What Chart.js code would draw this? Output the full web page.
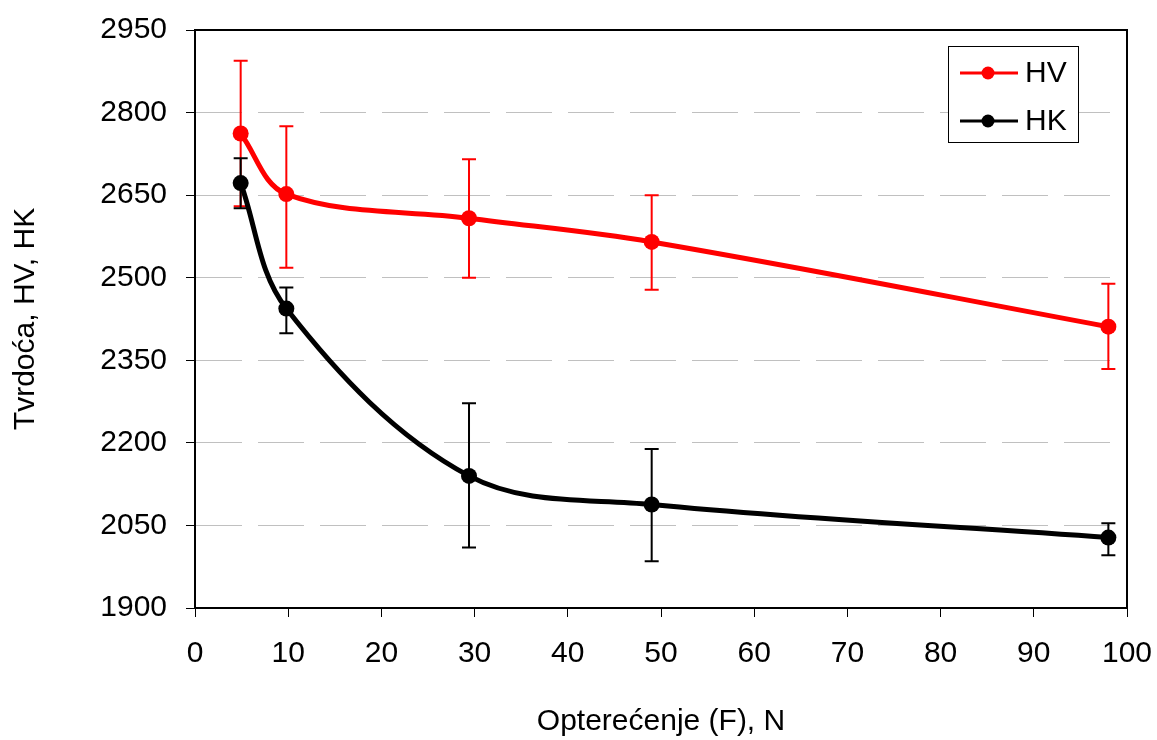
<!DOCTYPE html>
<html>
<head>
<meta charset="utf-8">
<script src="https://cdn.jsdelivr.net/npm/chart.js@4"></script>
<style>
    html, body { margin: 0; padding: 0; background: #fff; }
    #wrap { width: 1157px; height: 740px; }
</style>
</head>
<body>
<div id="wrap"><canvas id="hardnessChart" width="1157" height="740"></canvas></div>
<script>
// load in N (0.5, 1, 3, 5, 10 kgf)
const loads = [4.9, 9.8, 29.4, 49, 98];

const hv = [2762, 2652, 2608, 2565, 2411];
const hvErrHi = [2894, 2775, 2715, 2650, 2489];
const hvErrLo = [2630, 2518, 2500, 2478, 2334];

const hk = [2672, 2444, 2140, 2088, 2028];
const hkErrHi = [2717, 2482, 2272, 2189, 2054];
const hkErrLo = [2626, 2399, 2010, 1985, 1996];

const seriesNames = ['HV', 'HK'];
const seriesColors = ['#ff0000', '#000000'];

const xMin = 0, xMax = 100, xStep = 10;
const yMin = 1900, yMax = 2950, yStep = 150;

const FONT = "'Liberation Sans', Arial, sans-serif";

const errBars = [
    { lo: hvErrLo, hi: hvErrHi, color: seriesColors[0] },
    { lo: hkErrLo, hi: hkErrHi, color: seriesColors[1] }
];

const errorBarPlugin = {
    id: 'errorBars',
    beforeDatasetsDraw(chart) {
        const { ctx, scales: { x, y } } = chart;
        ctx.save();
        ctx.lineWidth = 2;
        errBars.forEach(bar => {
            ctx.strokeStyle = bar.color;
            loads.forEach((load, i) => {
                const px = x.getPixelForValue(load);
                const top = y.getPixelForValue(bar.hi[i]);
                const bottom = y.getPixelForValue(bar.lo[i]);
                ctx.beginPath();
                ctx.moveTo(px, top);
                ctx.lineTo(px, bottom);
                ctx.moveTo(px - 7, top);
                ctx.lineTo(px + 7, top);
                ctx.moveTo(px - 7, bottom);
                ctx.lineTo(px + 7, bottom);
                ctx.stroke();
            });
        });
        ctx.restore();
    }
};

// top and right edge of the plot box + legend box
const framePlugin = {
    id: 'frame',
    afterDraw(chart) {
        const { ctx, chartArea: a } = chart;
        ctx.save();
        ctx.strokeStyle = '#000';
        ctx.lineWidth = 2;
        ctx.beginPath();
        ctx.moveTo(a.left, a.top);
        ctx.lineTo(a.right, a.top);
        ctx.lineTo(a.right, a.bottom);
        ctx.stroke();

        // legend
        const lx = a.right - 179, ly = a.top + 16, lw = 130, lh = 96;
        ctx.fillStyle = '#fff';
        ctx.fillRect(lx, ly, lw, lh);
        ctx.lineWidth = 1;
        ctx.strokeRect(lx + 0.5, ly + 0.5, lw, lh);
        ctx.font = '30px ' + FONT;
        ctx.textBaseline = 'middle';
        ctx.textAlign = 'left';
        seriesNames.forEach((name, i) => {
            const cy = ly + 27 + i * 48;
            ctx.strokeStyle = seriesColors[i];
            ctx.fillStyle = seriesColors[i];
            ctx.lineWidth = 3;
            ctx.beginPath();
            ctx.moveTo(lx + 12, cy);
            ctx.lineTo(lx + 70, cy);
            ctx.stroke();
            ctx.beginPath();
            ctx.arc(lx + 40, cy, 6.5, 0, Math.PI * 2);
            ctx.fill();
            ctx.fillStyle = '#000';
            ctx.fillText(name, lx + 77, cy + 1);
        });
        ctx.restore();
    }
};

const ctx = document.getElementById('hardnessChart').getContext('2d');

new Chart(ctx, {
    type: 'line',
    data: {
        datasets: [
            {
                label: seriesNames[0],
                data: loads.map((l, i) => ({ x: l, y: hv[i] })),
                borderColor: seriesColors[0],
                backgroundColor: seriesColors[0],
                borderWidth: 5,
                pointRadius: 8,
                pointBorderWidth: 0,
                tension: 0.35,
                order: 1
            },
            {
                label: seriesNames[1],
                data: loads.map((l, i) => ({ x: l, y: hk[i] })),
                borderColor: seriesColors[1],
                backgroundColor: seriesColors[1],
                borderWidth: 5,
                pointRadius: 8,
                pointBorderWidth: 0,
                tension: 0.35,
                order: 0
            }
        ]
    },
    options: {
        responsive: false,
        animation: false,
        layout: { padding: { top: 30, right: 30, left: 0, bottom: 0 } },
        scales: {
            x: {
                type: 'linear',
                min: xMin,
                max: xMax,
                afterFit: scale => {
                    scale.height = 132;
                    scale.paddingLeft = 0;
                    scale.paddingRight = 0;
                },
                ticks: {
                    stepSize: xStep,
                    color: '#000',
                    font: { family: FONT, size: 30 },
                    padding: 19,
                    maxRotation: 0
                },
                grid: {
                    drawOnChartArea: false,
                    tickLength: 9,
                    tickColor: '#000',
                    tickWidth: 1
                },
                border: { color: '#000', width: 2 },
                title: {
                    display: true,
                    text: 'Opterećenje (F), N',
                    color: '#000',
                    font: { family: FONT, size: 30 },
                    padding: { top: 0, bottom: 0 }
                }
            },
            y: {
                min: yMin,
                max: yMax,
                afterFit: scale => {
                    scale.width = 195;
                    scale.paddingTop = 0;
                    scale.paddingBottom = 0;
                },
                ticks: {
                    stepSize: yStep,
                    color: '#000',
                    font: { family: FONT, size: 30 },
                    padding: 19,
                    callback: v => String(v)
                },
                grid: {
                    color: c => (c.tick && (c.tick.value === yMin || c.tick.value === yMax)) ? 'rgba(0,0,0,0)' : '#c0c0c0',
                    lineWidth: 1,
                    tickLength: 9,
                    tickColor: '#000',
                    tickWidth: 1
                },
                border: { color: '#000', width: 2, dash: [46, 16] },
                title: {
                    display: true,
                    text: 'Tvrdoća, HV, HK',
                    color: '#000',
                    font: { family: FONT, size: 30 },
                    padding: { top: 8, bottom: 0 }
                }
            }
        },
        plugins: {
            legend: { display: false },
            tooltip: { enabled: false }
        }
    },
    plugins: [errorBarPlugin, framePlugin]
});
</script>
</body>
</html>
